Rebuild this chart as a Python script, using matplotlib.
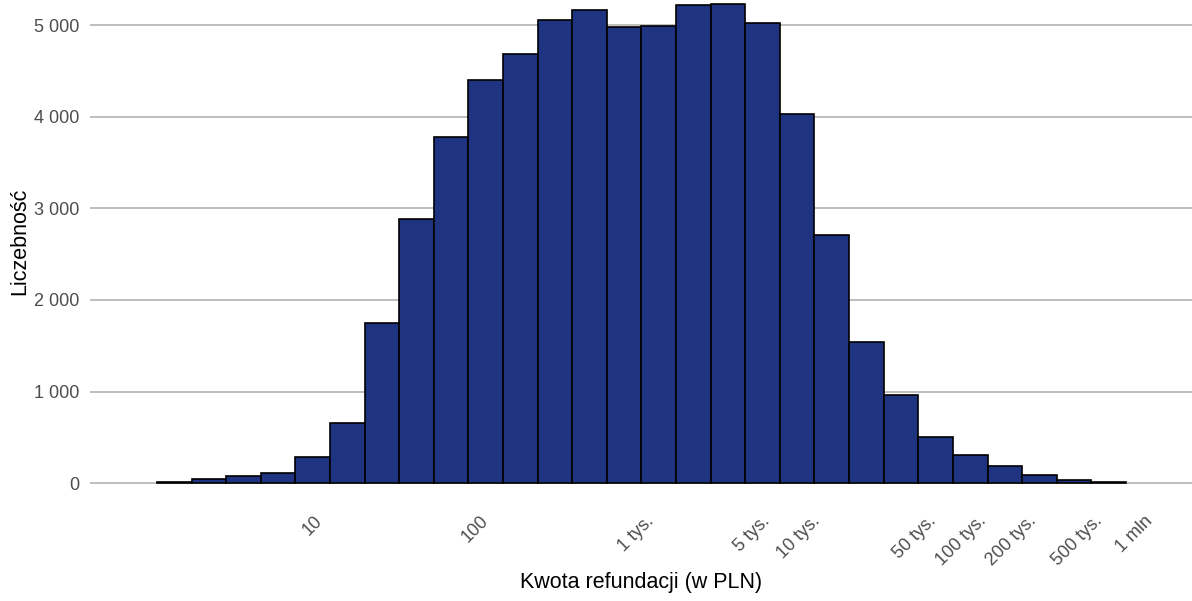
import matplotlib
matplotlib.use('Agg')
import matplotlib.pyplot as plt
import numpy as np
from matplotlib.ticker import FuncFormatter

plt.rcParams['font.family'] = ['Liberation Sans', 'DejaVu Sans']

# histogram of refund amounts (log10 bins), counts
amount_min = 1.139     # PLN, lower edge of first bin
amount_max = 783000.0  # PLN, upper edge of last bin
counts = [15, 47, 74, 111, 280, 660, 1750, 2880, 3777, 4400,
          4683, 5062, 5167, 4982, 4993, 5218, 5229, 5029, 4028, 2710,
          1541, 965, 500, 309, 182, 91, 36, 10]

x_ticks = [10, 100, 1000, 5000, 10000, 50000, 100000, 200000, 500000, 1000000]
x_labels = ['10', '100', '1 tys.', '5 tys.', '10 tys.', '50 tys.',
            '100 tys.', '200 tys.', '500 tys.', '1 mln']
y_ticks = [0, 1000, 2000, 3000, 4000, 5000]

edges = np.logspace(np.log10(amount_min), np.log10(amount_max), len(counts) + 1)

W, H = 1192, 601
fig = plt.figure(figsize=(W/100, H/100), dpi=100)
ax = fig.add_axes([90/W, (H-490)/H, (1192-90)/W, (490-3)/H])

ax.set_xscale('log')
ax.bar(edges[:-1], counts, width=np.diff(edges), align='edge',
       color='#1F3480', edgecolor='black', linewidth=1.2, zorder=3)

ax.set_xlim(0.450, 1.957e6)
ax.set_ylim(-76, 5245)

ax.set_yticks(y_ticks)
ax.yaxis.set_major_formatter(FuncFormatter(lambda v, p: f'{int(v):,}'.replace(',', ' ')))
ax.set_xticks(x_ticks)
ax.set_xticklabels(x_labels, rotation=45, ha='right', va='top', rotation_mode='anchor')
ax.minorticks_off()

ax.grid(axis='y', color='#B3B3B3', linewidth=1.2, zorder=0)
ax.grid(axis='x', visible=False)
for s in ax.spines.values():
    s.set_visible(False)

ax.tick_params(axis='both', length=0, labelsize=13, labelcolor='#4D4D4D')
ax.tick_params(axis='x', pad=16.3)
ax.tick_params(axis='y', pad=7.5)

ax.set_xlabel('Kwota refundacji (w PLN)', fontsize=15.5, va='baseline')
ax.xaxis.set_label_coords(0.5, -0.2012)
ax.set_ylabel('Liczebność', fontsize=15.5, va='center')
ax.yaxis.set_label_coords(-0.0637, 0.510)

fig.savefig('out.png', dpi=100)
